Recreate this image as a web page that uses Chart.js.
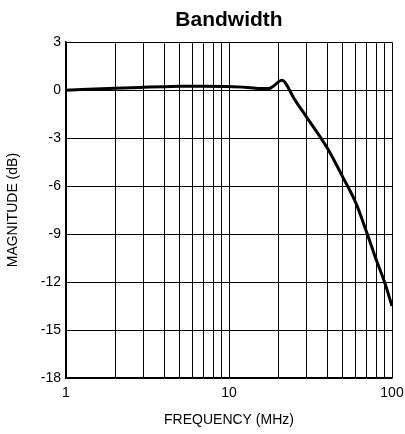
<!DOCTYPE html>
<html>
<head>
<meta charset="utf-8">
<script src="https://cdn.jsdelivr.net/npm/chart.js@4/dist/chart.umd.min.js"></script>
<style>
  html, body { margin: 0; padding: 0; background: #fff; }
  #wrap { width: 405px; height: 434px; }
</style>
</head>
<body>
<div id="wrap"><canvas id="bwChart" width="405" height="434"></canvas></div>
<script>
// frequency response
const freqMHz = [1, 1.5, 2, 3, 4, 5, 7, 10, 13, 16, 17.5, 19, 20, 21, 22, 25, 30, 40, 50, 60, 70, 80, 90, 100];
const magnitudeDb = [0.0, 0.07, 0.12, 0.18, 0.22, 0.24, 0.25, 0.23, 0.17, 0.1, 0.1, 0.3, 0.5, 0.62, 0.5, -0.5, -1.7, -3.6, -5.45, -7.05, -8.9, -10.6, -12.0, -13.5];

// grid lines and labels
const xGridValues = [1, 2, 3, 4, 5, 6, 7, 8, 9, 10, 20, 30, 40, 50, 60, 70, 80, 90, 100];
const xTickLabels = [1, 10, 100];
const yTickValues = [-18, -15, -12, -9, -6, -3, 0, 3];

const fontFamily = 'Arial, "Liberation Sans", Helvetica, sans-serif';

const ctx = document.getElementById('bwChart').getContext('2d');
new Chart(ctx, {
    type: 'line',
    data: {
        datasets: [{
            data: freqMHz.map((f, i) => ({ x: f, y: magnitudeDb[i] })),
            borderColor: '#000',
            borderWidth: 3,
            pointRadius: 0,
            cubicInterpolationMode: 'monotone',
            fill: false,
        }],
    },
    options: {
        responsive: false,
        animation: false,
        layout: { padding: { left: 0, right: 0, top: 0, bottom: 0 } },
        plugins: {
            legend: { display: false },
            tooltip: { enabled: false },
            title: {
                display: true,
                fullSize: false, // centre over the plot area, not the canvas
                text: 'Bandwidth',
                color: '#000',
                font: { family: fontFamily, size: 21, weight: 'bold', lineHeight: 1.2 },
                padding: { top: 8, bottom: 9 },
            },
        },
        scales: {
            x: {
                type: 'logarithmic',
                min: 1,
                max: 100,
                afterBuildTicks: (scale) => {
                    scale.ticks = xGridValues.map(v => ({ value: v }));
                },
                afterFit: (scale) => {
                    scale.height = 56;
                    scale.paddingRight = 13;
                },
                ticks: {
                    color: '#000',
                    font: { family: fontFamily, size: 14 },
                    padding: 7,
                    autoSkip: false,
                    maxRotation: 0,
                    callback: (v) => xTickLabels.includes(v) ? String(v) : '',
                },
                grid: { color: '#000', lineWidth: 1, drawTicks: false },
                border: { color: '#000', width: 1.5 },
                title: {
                    display: true,
                    text: 'FREQUENCY (MHz)',
                    color: '#000',
                    font: { family: fontFamily, size: 14, lineHeight: 1.2 },
                    padding: { top: 0, bottom: 5.5 },
                },
            },
            y: {
                min: -18,
                max: 3,
                afterBuildTicks: (scale) => {
                    scale.ticks = yTickValues.map(v => ({ value: v }));
                },
                afterFit: (scale) => { scale.width = 66; },
                ticks: {
                    color: '#000',
                    font: { family: fontFamily, size: 14 },
                    padding: 5,
                },
                grid: { color: '#000', lineWidth: 1, drawTicks: false },
                border: { color: '#000', width: 1.5 },
                title: {
                    display: true,
                    text: 'MAGNITUDE (dB)',
                    color: '#000',
                    font: { family: fontFamily, size: 14, lineHeight: 1.2 },
                    padding: { top: 5, bottom: 0 },
                },
            },
        },
    },
});
</script>
</body>
</html>
